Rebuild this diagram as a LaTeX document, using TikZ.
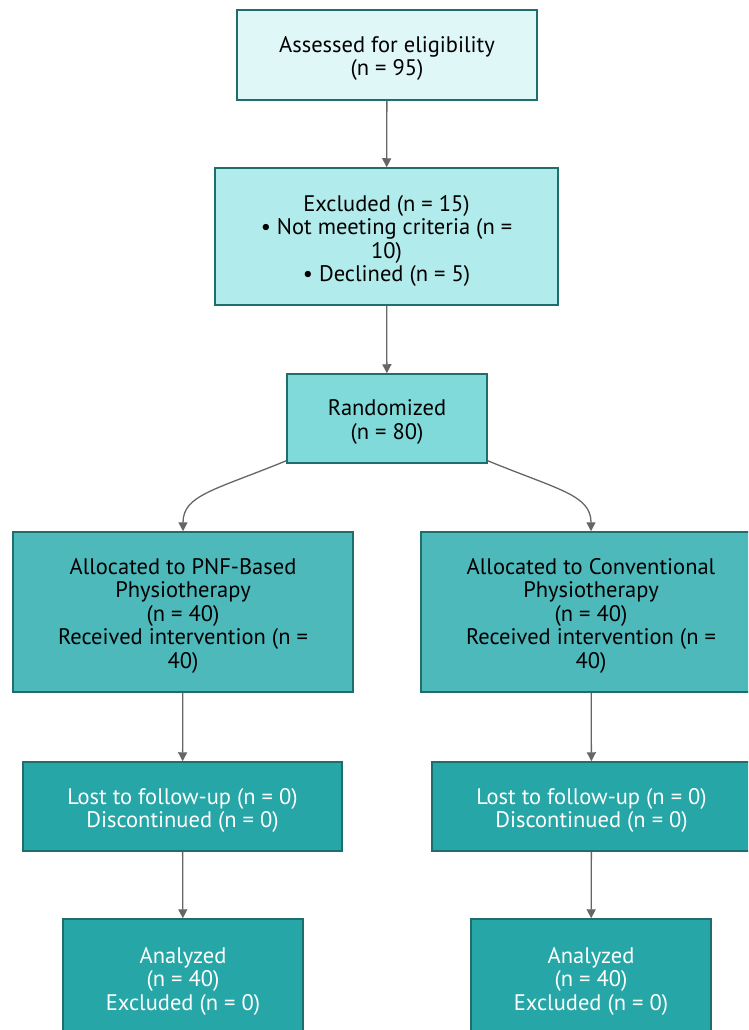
\documentclass[tikz,border=0pt]{standalone}
\usepackage{fontspec}
\setmainfont{PT Sans}
\usetikzlibrary{arrows.meta}
\definecolor{bd}{HTML}{1F6E6E}
\definecolor{c1}{HTML}{E0F7F8}
\definecolor{c2}{HTML}{B2EBEC}
\definecolor{c3}{HTML}{80DADA}
\definecolor{c4}{HTML}{4DB9BB}
\definecolor{c5}{HTML}{26A6A6}
\definecolor{ln}{HTML}{666666}
\tikzset{
  box/.style={draw=bd, line width=1.5pt, rectangle, inner sep=0pt},
  txt/.style={align=center, inner sep=0pt, font=\fontsize{22.5}{23.5}\selectfont},
  arr/.style={draw=ln, line width=1.3pt, -{Triangle[width=9pt,length=9pt]}},
}
\begin{document}
\begin{tikzpicture}[x=1pt,y=-1pt]
\useasboundingbox (0,0) rectangle (748,1030);
\clip (0,0) rectangle (748,1030);
\node[box, fill=c1, minimum width=300pt, minimum height=90pt] (a) at (387,55) {};
\node[box, fill=c2, minimum width=343pt, minimum height=137pt] (e) at (386.5,236.5) {};
\node[box, fill=c3, minimum width=200pt, minimum height=89pt] (r) at (387,418.5) {};
\node[box, fill=c4, minimum width=340pt, minimum height=160pt] (pl) at (183,612) {};
\node[box, fill=c4, minimum width=340pt, minimum height=160pt] (pr) at (591,612) {};
\node[box, fill=c5, minimum width=319pt, minimum height=89pt] (fl) at (182.5,806.5) {};
\node[box, fill=c5, minimum width=319pt, minimum height=89pt] (fr) at (591.5,806.5) {};
\node[box, fill=c5, minimum width=240pt, minimum height=113pt] (al) at (183,975.5) {};
\node[box, fill=c5, minimum width=240pt, minimum height=113pt] (ar) at (591,975.5) {};
\node[txt] (at) at ([yshift=-3.5pt]a.center) {Assessed for eligibility\\(n = 95)};
\node[txt] (et) at ([yshift=-4.5pt]e.center) {Excluded (n = 15)\\• Not meeting criteria (n =\\10)\\• Declined (n = 5)};
\node[txt] (rt) at ([yshift=-3.5pt]r.center) {Randomized\\(n = 80)};
\node[txt] (plt) at ([yshift=-3.5pt]pl.center) {Allocated to PNF-Based\\Physiotherapy\\(n = 40)\\Received intervention (n =\\40)};
\node[txt] (prt) at ([yshift=-3.5pt]pr.center) {Allocated to Conventional\\Physiotherapy\\(n = 40)\\Received intervention (n =\\40)};
\node[txt, text=white] (flt) at ([yshift=-4pt]fl.center) {Lost to follow-up (n = 0)\\Discontinued (n = 0)};
\node[txt, text=white] (frt) at ([yshift=-4pt]fr.center) {Lost to follow-up (n = 0)\\Discontinued (n = 0)};
\node[txt, text=white] (alt) at ([yshift=-5.5pt]al.center) {Analyzed\\(n = 40)\\Excluded (n = 0)};
\node[txt, text=white] (art) at ([yshift=-5.5pt]ar.center) {Analyzed\\(n = 40)\\Excluded (n = 0)};
\draw[arr] (a) -- (e);
\draw[arr] (e) -- (r);
\draw[arr] ([yshift=3pt]r.south west) .. controls (215,490) and (183,495) .. (pl.north);
\draw[arr] ([yshift=3pt]r.south east) .. controls (559,490) and (591,495) .. (pr.north);
\draw[arr] (pl) -- (fl);
\draw[arr] (pr) -- (fr);
\draw[arr] (fl) -- (al);
\draw[arr] (fr) -- (ar);
\end{tikzpicture}
\end{document}
